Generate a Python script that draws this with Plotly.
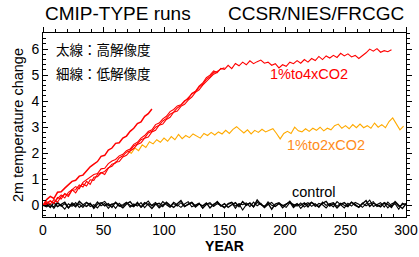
import numpy as np
import plotly.graph_objects as go

# ---------------- data ----------------
# 1%to4xCO2, long run (to year ~290)
co2x4_long = [
    0.00, 0.10, 0.18, 0.08, 0.30, 0.24, 0.45, 0.38, 0.60, 0.72,
    0.64, 0.88, 0.98, 1.05, 1.18, 1.22, 1.40, 1.42, 1.60, 1.70,
    1.76, 1.90, 1.96, 2.10, 2.16, 2.34, 2.42, 2.58, 2.68, 2.84,
    2.90, 3.10, 3.16, 3.32, 3.42, 3.60, 3.68, 3.82, 3.86, 4.02,
    4.08, 4.30, 4.38, 4.58, 4.70, 4.90, 5.00, 5.16, 5.10, 5.26,
    5.22, 5.38, 5.25, 5.45, 5.36, 5.50, 5.40, 5.55, 5.44, 5.52,
    5.58, 5.46, 5.50, 5.38, 5.44, 5.28, 5.40, 5.34, 5.50, 5.44,
    5.56, 5.46, 5.60, 5.50, 5.64, 5.56, 5.72, 5.60, 5.74, 5.66,
    5.76, 5.68, 5.84, 5.74, 5.82, 5.70, 5.76, 5.64, 5.74, 5.86,
    6.00, 5.92, 6.02, 5.88, 5.94, 5.90, 5.98,
]
# 1%to4xCO2, high-resolution (thick) run, years 0-90
co2x4_hires = [
    0.00, 0.22, 0.34, 0.26, 0.50, 0.52, 0.66, 0.78, 0.92, 0.96,
    1.12, 1.16, 1.34, 1.48, 1.58, 1.68, 1.88, 1.92, 2.12, 2.20,
    2.38, 2.40, 2.58, 2.66, 2.84, 2.96, 3.14, 3.20, 3.42, 3.52, 3.70,
]
# 1%to4xCO2, other low-res members
co2x4_run_c = [
    0.00, 0.14, 0.04, 0.22, 0.12, 0.34, 0.42, 0.34, 0.58, 0.60,
    0.78, 0.70, 0.92, 0.80, 1.08, 1.10, 1.24, 1.30, 1.44, 1.50,
    1.66, 1.68, 1.86, 1.92, 2.08, 2.18, 2.34, 2.40, 2.58, 2.62,
    2.82, 2.88, 3.08, 3.12, 3.30, 3.38, 3.58, 3.62, 3.80, 3.88,
    4.04, 4.16, 4.34, 4.44, 4.62, 4.76, 4.92, 5.04, 5.10,
]
co2x4_run_d = [
    0.00, 0.04, 0.16, 0.08, 0.26, 0.40, 0.28, 0.50, 0.60, 0.48,
    0.70, 0.82, 0.74, 0.98, 0.96, 1.18, 1.26, 1.18, 1.42, 1.58,
    1.62, 1.82, 1.90, 2.04, 2.10, 2.28, 2.36, 2.52, 2.58, 2.78,
    2.84, 3.00, 3.08, 3.24, 3.34, 3.50, 3.58, 3.74, 3.84, 3.98,
    4.10, 4.28, 4.36, 4.54, 4.66, 4.84, 4.94, 5.10, 5.14, 5.24,
    5.28,
]
# 1%to2xCO2 (branches at year 70)
co2x2 = [
    2.08, 2.00, 2.20, 2.10, 2.32, 2.22, 2.44, 2.36, 2.52, 2.42,
    2.58, 2.46, 2.64, 2.52, 2.72, 2.56, 2.68, 2.60, 2.74, 2.66,
    2.58, 2.76, 2.68, 2.80, 2.70, 2.82, 2.74, 2.88, 2.76, 2.92,
    3.02, 2.90, 2.78, 2.90, 2.74, 2.88, 2.80, 2.92, 2.82, 2.88,
    2.94, 2.76, 2.55, 2.76, 2.84, 2.76, 3.00, 2.86, 2.82, 2.94,
    2.84, 2.96, 2.88, 3.00, 2.86, 2.96, 2.90, 3.06, 3.12, 2.96,
    3.06, 2.94, 3.10, 2.98, 3.12, 2.98, 3.06, 2.96, 3.16, 3.00,
    3.10, 2.98, 3.22, 3.36, 3.14, 2.90, 3.04,
]
# control runs
control_1 = [
    0.00, 0.05, -0.08, 0.10, -0.05, 0.02, 0.12, -0.10, 0.04, -0.06,
    0.15, 0.02, -0.04, 0.08, -0.12, 0.05, 0.10, -0.02, 0.06, -0.08,
    0.12, 0.00, -0.10, 0.05, 0.14, -0.03, 0.07, -0.06, 0.10, 0.02,
    -0.12, 0.04, 0.08, -0.05, 0.12, 0.00, -0.08, 0.06, 0.18, -0.04,
    0.03, 0.10, -0.07, 0.05, -0.02, 0.09, -0.10, 0.04, 0.12, -0.03,
    0.06, -0.08, 0.02, 0.10, -0.05, 0.14, 0.00, 0.08, -0.06, 0.20,
    0.03, -0.04, 0.07, -0.15, 0.05, 0.10, -0.02, 0.06, 0.12, -0.08,
    0.04, 0.00, 0.09, -0.06, 0.11, 0.02, -0.05, 0.08, 0.15, -0.03,
    0.06, -0.10, 0.04, 0.10, -0.02, 0.12, 0.00, -0.07, 0.05, 0.18,
    -0.04, 0.08, 0.02, -0.06, 0.10, 0.03, -0.08, 0.14, 0.00, -0.12,
    0.05,
]
control_2 = [
    0.00, -0.06, 0.04, -0.12, 0.08, 0.00, -0.15, 0.06, -0.04, 0.10,
    -0.08, 0.03, 0.12, -0.05, 0.02, -0.10, 0.07, 0.15, -0.02, 0.05,
    -0.12, 0.08, -0.04, 0.10, 0.00, -0.06, 0.12, -0.08, 0.04, 0.16,
    -0.03, 0.06, -0.10, 0.02, 0.09, -0.05, 0.12, 0.03, -0.08, 0.05,
    0.14, -0.06, 0.00, 0.08, -0.12, 0.04, 0.10, -0.04, 0.06, 0.00,
    -0.10, 0.07, 0.12, -0.03, 0.05, -0.18, 0.02, 0.09, -0.06, 0.11,
    0.04, -0.08, 0.13, 0.00, -0.05, 0.08, -0.10, 0.05, 0.16, -0.02,
    0.07, -0.12, 0.03, 0.10, -0.04, 0.06, -0.08, 0.12, 0.00, 0.05,
    -0.06, 0.14, 0.02, -0.10, 0.08, -0.03, 0.11, 0.04, -0.08, 0.06,
    0.20, -0.05, 0.03, 0.10, -0.07, 0.12, -0.02, 0.06, -0.15, 0.08,
    0.02,
]
control_3 = [
    0.00, 0.08, 0.02, -0.06, 0.12, -0.04, 0.06, -0.10, 0.10, 0.00,
    0.05, -0.08, 0.10, 0.04, -0.06, 0.13, -0.02, 0.07, -0.12, 0.04,
    0.09, -0.04, 0.02, 0.12, -0.07, 0.05, -0.03, 0.10, -0.09, 0.06,
    0.00, 0.11, -0.05, 0.14, 0.02, -0.08, 0.07, -0.03, 0.10, -0.06,
    0.05, 0.12, -0.02, 0.08, -0.10, 0.03, 0.06, -0.04, 0.15, 0.00,
    -0.07, 0.04, 0.10, -0.12, 0.06, 0.02, 0.09, -0.05, 0.12, -0.02,
    0.08, -0.09, 0.03, 0.11, -0.04, 0.06, 0.00, -0.08, 0.10, 0.05,
    -0.03, 0.09, -0.07, 0.04, 0.12, -0.05, 0.07, 0.02, -0.10, 0.06,
    0.10, -0.04, 0.08, 0.00, -0.06, 0.12, 0.04, -0.08, 0.09, -0.02,
    0.06, 0.14, -0.05, 0.03, 0.08, -0.10, 0.05, 0.12, -0.04, 0.02,
    0.07,
]
year_step = 3
co2x2_start = 70
x_tickvals = [0, 50, 100, 150, 200, 250, 300]
y_tickvals = [0, 1, 2, 3, 4, 5, 6]


def years_from(start, vals):
    return start + year_step * np.arange(len(vals))


RED = "#ff0000"
ORANGE = "#ffaa00"
FONT = "Liberation Sans, Arial, sans-serif"
CJK = "Noto Sans CJK JP"

fig = go.Figure()

for vals, w in [(control_1, 1.4), (control_2, 1.1), (control_3, 1.1)]:
    fig.add_trace(go.Scatter(x=years_from(0, vals), y=vals, mode="lines",
                             line=dict(color="black", width=w), hoverinfo="skip"))

fig.add_trace(go.Scatter(x=years_from(co2x2_start, co2x2), y=co2x2, mode="lines",
                         line=dict(color=ORANGE, width=1.1)))
for vals, w in [(co2x4_run_c, 1.1), (co2x4_run_d, 1.1), (co2x4_long, 1.1), (co2x4_hires, 1.5)]:
    fig.add_trace(go.Scatter(x=years_from(0, vals), y=vals, mode="lines",
                             line=dict(color=RED, width=w)))

# invisible trace to anchor mirror axes
fig.add_trace(go.Scatter(x=[0], y=[0], xaxis="x2", yaxis="y2", mode="markers",
                         marker=dict(opacity=0), hoverinfo="skip"))

xr = [0, 300]
yr = [-0.45, 6.62]
common = dict(showgrid=False, zeroline=False, showline=True, linecolor="black",
              linewidth=1, ticklen=5, tickwidth=1, tickcolor="black", automargin=False)

fig.update_layout(
    width=419, height=257,
    margin=dict(l=43, r=13, t=33, b=40),
    paper_bgcolor="white", plot_bgcolor="white",
    showlegend=False,
    font=dict(family=FONT, color="black", size=13),
    xaxis=dict(range=xr, tickvals=x_tickvals, ticks="inside",
               minor=dict(dtick=10, ticks="inside", ticklen=3, tickcolor="black"),
               tickfont=dict(size=14, family=FONT),
               title=dict(text="<b>YEAR</b>", font=dict(size=14), standoff=0),
               **common),
    yaxis=dict(range=yr, tickvals=y_tickvals, ticks="inside",
               minor=dict(dtick=0.2, ticks="inside", ticklen=3, tickcolor="black"),
               tickfont=dict(size=14, family=FONT),
               title=dict(text="2m temperature change", font=dict(size=14.5), standoff=4),
               **common),
    xaxis2=dict(range=xr, overlaying="x", side="top", tickvals=x_tickvals, ticks="outside",
                showticklabels=False, matches="x",
                minor=dict(dtick=10, ticks="outside", ticklen=3, tickcolor="black"),
                **common),
    yaxis2=dict(range=yr, overlaying="y", side="right", tickvals=y_tickvals, ticks="outside",
                showticklabels=False, matches="y",
                minor=dict(dtick=0.2, ticks="outside", ticklen=3, tickcolor="black"),
                **common),
)

annos = [
    dict(text="CMIP-TYPE runs", x=0, y=1.0, xref="paper", yref="paper",
         xanchor="left", yanchor="bottom", yshift=7, font=dict(size=19, family=FONT)),
    dict(text="CCSR/NIES/FRCGC", x=1, y=1.0, xref="paper", yref="paper",
         xanchor="right", yanchor="bottom", yshift=7, font=dict(size=19, family=FONT)),
    dict(text="太線：高解像度", x=9, y=6.0, xanchor="left", yanchor="middle",
         font=dict(size=13.5, family=CJK)),
    dict(text="細線：低解像度", x=9, y=5.1, xanchor="left", yanchor="middle",
         font=dict(size=13.5, family=CJK)),
    dict(text="1%to4xCO2", x=220, y=5.03, font=dict(size=14.5, color=RED, family=FONT)),
    dict(text="1%to2xCO2", x=234, y=2.31, font=dict(size=14.5, color="#ff8c1a", family=FONT)),
    dict(text="control", x=224, y=0.53, font=dict(size=14.5, color="black", family=FONT)),
]
for a in annos:
    a.setdefault("showarrow", False)
    fig.add_annotation(**a)

fig.write_html("out.html",
               config={"displayModeBar": False, "staticPlot": True},
               post_script="document.body.style.margin='0';document.body.style.padding='0';")
